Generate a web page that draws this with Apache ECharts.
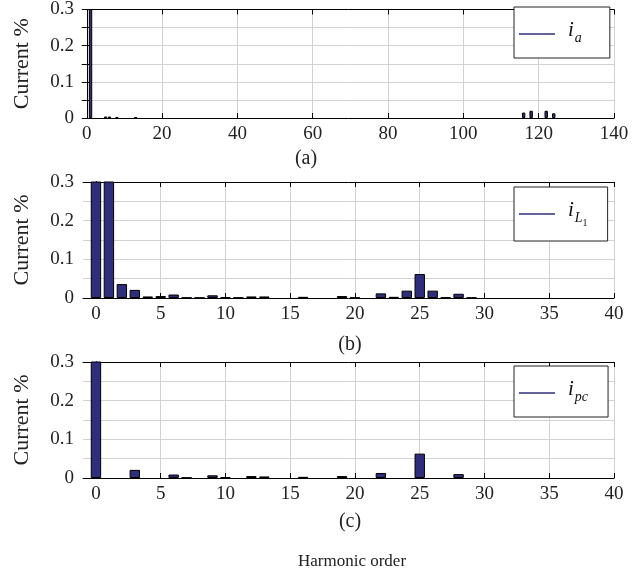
<!DOCTYPE html>
<html>
<head>
<meta charset="utf-8">
<script src="https://cdn.jsdelivr.net/npm/echarts@6/dist/echarts.min.js"></script>
<style>
  html, body { margin: 0; padding: 0; background: #fff; }
  #chart { width: 634px; height: 577px; }
</style>
</head>
<body>
<div id="chart"></div>
<script>
// 谐波频谱数据
const harmA = [1, 5, 6, 8, 13, 116, 118, 122, 124];
const currA = [1, 0.004, 0.004, 0.003, 0.002, 0.015, 0.02, 0.02, 0.013];

const harmL1 = [0, 1, 2, 3, 4, 5, 6, 7, 8, 9, 10, 11, 12, 13, 16, 19, 20, 22, 23, 24, 25, 26, 27, 28, 29];
const currL1 = [1, 1, 0.036, 0.021, 0.004, 0.005, 0.009, 0.001, 0.001, 0.007, 0.002, 0.001, 0.004, 0.004,
                0.003, 0.005, 0.001, 0.012, 0.003, 0.019, 0.062, 0.019, 0.002, 0.011, 0.001];

const harmPc = [0, 3, 6, 7, 9, 10, 12, 13, 16, 19, 22, 25, 28];
const currPc = [1, 0.021, 0.009, 0.001, 0.007, 0.002, 0.005, 0.004, 0.003, 0.005, 0.013, 0.063, 0.01];

const ticksA = [0, 20, 40, 60, 80, 100, 120, 140];
const ticksB = [0, 5, 10, 15, 20, 25, 30, 35, 40];

const FONT = 'Liberation Serif';
const BAR_COLOR = '#2e2e7c';

const panels = [
    { top: 4, height: 114, xmax: 140, ticks: ticksA, barW: 3.4, name: 'ia', harm: harmA, curr: currA },
    { top: 182, height: 116, xmax: 40, ticks: ticksB, barW: 10.4, name: 'iL1', harm: harmL1, curr: currL1 },
    { top: 362, height: 116, xmax: 40, ticks: ticksB, barW: 10.4, name: 'ipc', harm: harmPc, curr: currPc }
];

const grid = [], xAxis = [], yAxis = [], series = [];
panels.forEach((p, i) => {
    grid.push({ left: 83, top: p.top, width: 531, height: p.height });
    const lineStyle = { color: '#000', width: 1 };
    // 底部 x 轴（带标签、网格）
    xAxis.push({
        type: 'value', gridIndex: i, min: -1, max: p.xmax, position: 'bottom',
        axisLine: { show: true, onZero: false, lineStyle },
        axisTick: { show: true, inside: true, length: 5, customValues: p.ticks, lineStyle },
        axisLabel: { customValues: p.ticks, color: '#222', fontFamily: FONT, fontSize: 19, margin: 7 },
        splitLine: { show: true, lineStyle: { color: '#d2d2d2', width: 1 } }
    });
    // 顶部 x 轴（只画框和刻度）
    xAxis.push({
        type: 'value', gridIndex: i, min: -1, max: p.xmax, position: 'top',
        axisLine: { show: true, onZero: false, lineStyle },
        axisTick: { show: true, inside: true, length: 5, customValues: p.ticks, lineStyle },
        axisLabel: { show: false },
        splitLine: { show: false }
    });
    yAxis.push({
        type: 'value', gridIndex: i, min: 0, max: 0.3, interval: 0.05, position: 'left',
        name: 'Current %', nameLocation: 'middle', nameGap: 50, nameRotate: 90,
        nameTextStyle: { fontFamily: FONT, fontSize: 22, color: '#222' },
        axisLine: { show: true, lineStyle },
        axisTick: { show: true, inside: true, length: 5, lineStyle },
        axisLabel: {
            color: '#222', fontFamily: FONT, fontSize: 19, margin: 9,
            formatter: v => {
                const k = Math.round(v * 20);
                if (k % 2 !== 0) return '';
                return k === 0 ? '0' : (k / 20).toFixed(1);
            }
        },
        splitLine: { show: true, lineStyle: { color: '#d2d2d2', width: 1 } }
    });
    yAxis.push({
        type: 'value', gridIndex: i, min: 0, max: 0.3, interval: 0.05, position: 'right',
        axisLine: { show: true, lineStyle },
        axisTick: { show: true, inside: true, length: 5, lineStyle },
        axisLabel: { show: false },
        splitLine: { show: false }
    });
    series.push({
        name: p.name,
        type: 'bar',
        xAxisIndex: 2 * i,
        yAxisIndex: 2 * i,
        barWidth: p.barW,
        clip: true,
        data: p.harm.map((h, j) => [h, p.curr[j]]),
        itemStyle: { color: BAR_COLOR, borderColor: '#000', borderWidth: 1 }
    });
});

const richBase = {
    i: { fontFamily: FONT, fontStyle: 'italic', fontSize: 21, color: '#111', padding: [0, 0, 0, 8], verticalAlign: 'top', lineHeight: 28 },
    s: { fontFamily: FONT, fontStyle: 'italic', fontSize: 14, color: '#111', padding: [11, 0, 0, 1], verticalAlign: 'top', lineHeight: 28 },
    ss: { fontFamily: FONT, fontSize: 10, color: '#111', padding: [18, 0, 0, 0], verticalAlign: 'top', lineHeight: 28 }
};

function makeLegend(name, top, padR, label) {
    return {
        data: [name], left: 514, top, orient: 'horizontal',
        backgroundColor: '#fff', borderColor: '#222', borderWidth: 1,
        padding: [13, padR, 13, 5],
        icon: 'rect', itemWidth: 36, itemHeight: 1.6,
        itemStyle: { borderWidth: 0 },
        selectedMode: false,
        formatter: () => label,
        textStyle: { rich: richBase }
    };
}

const legend = [
    makeLegend('ia', 7, 28, '{i|i}{s|a}'),
    makeLegend('iL1', 187, 20, '{i|i}{s|L}{ss|1}'),
    makeLegend('ipc', 366, 20, '{i|i}{s|pc}')
];

const textStyle = { fontFamily: FONT, fontSize: 20, fill: '#222', textAlign: 'center', textVerticalAlign: 'middle' };
const graphic = [
    { type: 'text', x: 306, y: 159, style: Object.assign({ text: '(a)' }, textStyle) },
    { type: 'text', x: 350, y: 345, style: Object.assign({ text: '(b)' }, textStyle) },
    { type: 'text', x: 350, y: 522, style: Object.assign({ text: '(c)' }, textStyle) },
    { type: 'text', x: 352, y: 562, style: Object.assign({ text: 'Harmonic order' }, textStyle, { fontSize: 17 }) }
];

const chart = echarts.init(document.getElementById('chart'));
chart.setOption({
    backgroundColor: '#fff',
    animation: false,
    grid, xAxis, yAxis, series, legend, graphic
});
</script>
</body>
</html>
